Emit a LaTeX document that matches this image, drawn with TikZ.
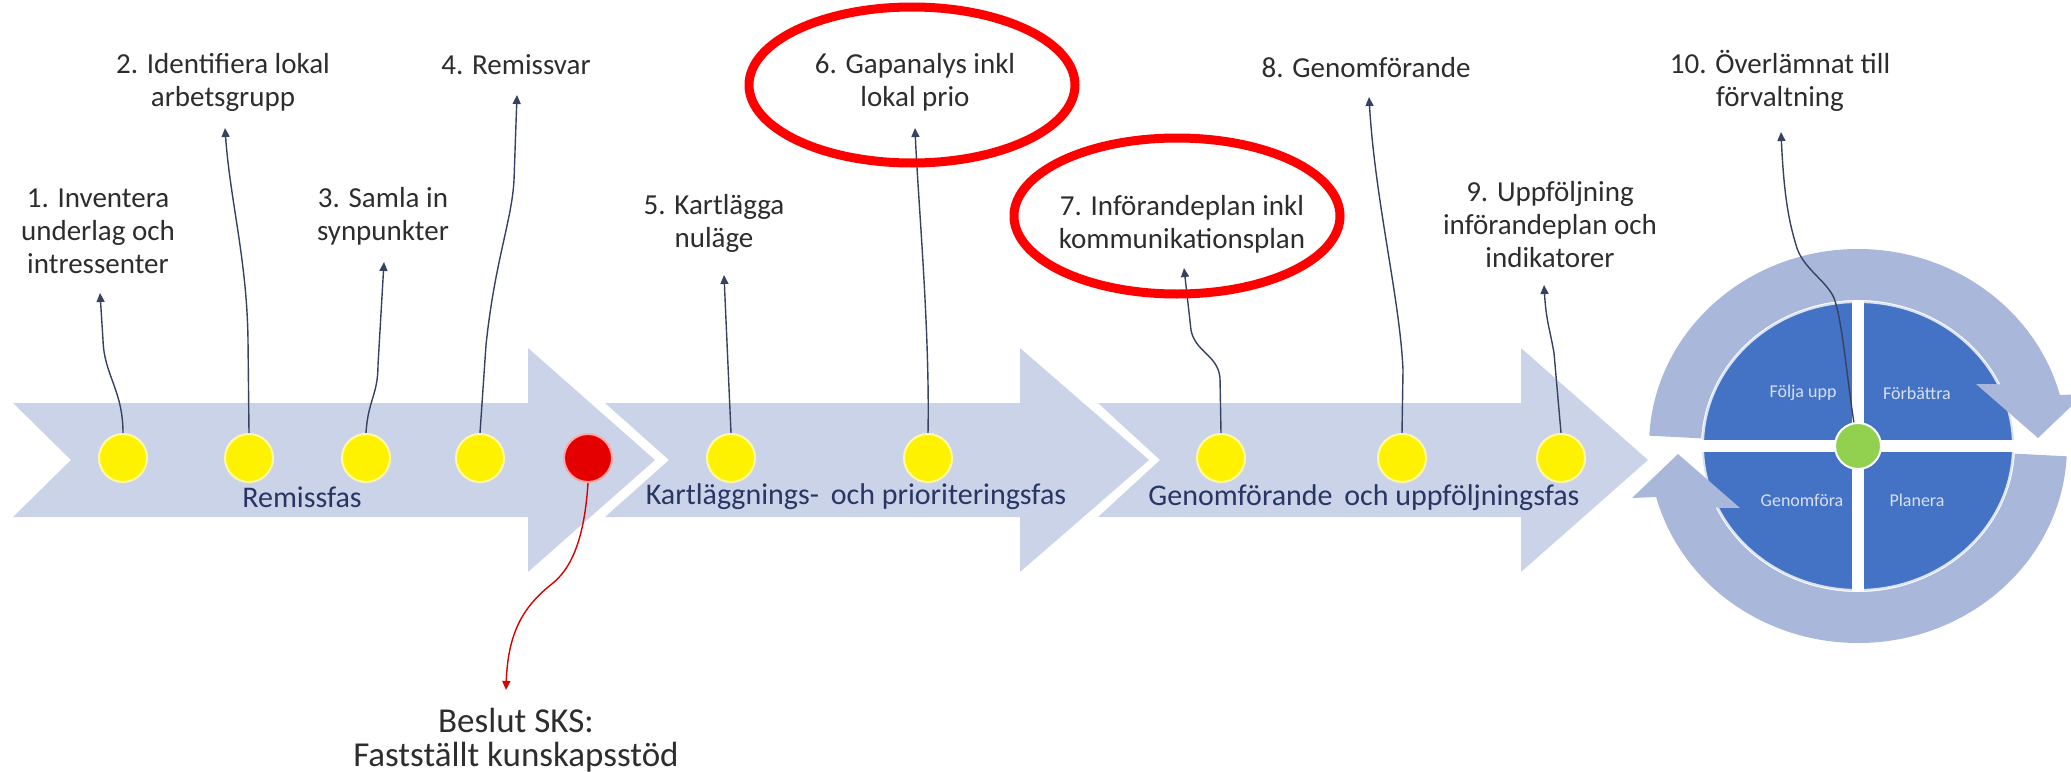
\documentclass[tikz,border=0pt]{standalone}
\usepackage{fontspec}
\setmainfont{Carlito}
\usetikzlibrary{arrows.meta}
\definecolor{chev}{RGB}{203,211,232}
\definecolor{ringc}{RGB}{169,183,218}
\definecolor{diskc}{RGB}{68,114,196}
\definecolor{dotg}{RGB}{146,208,80}
\definecolor{phase}{RGB}{40,54,100}
\definecolor{ink}{RGB}{45,45,45}
\definecolor{wire}{RGB}{55,66,96}
\definecolor{hlred}{RGB}{255,0,0}
\definecolor{quad}{RGB}{214,224,244}

\begin{document}
\begin{tikzpicture}[x=0.5pt,y=-0.5pt,
  lbl/.style={align=center,text=ink,font=\fontsize{14.5}{16.5}\selectfont,inner sep=0pt},
  big/.style={lbl,font=\fontsize{17.5}{17}\selectfont},
  ph/.style={text=phase,font=\fontsize{15}{18}\selectfont,inner sep=0pt},
  qd/.style={text=quad,font=\fontsize{9}{11}\selectfont,inner sep=0pt},
  ydot/.style={circle,fill=yellow,draw=yellow!35,line width=1pt,minimum size=24pt,inner sep=0pt},
  rdot/.style={ydot,fill=red!90!black,draw=red!35},
  gdot/.style={circle,fill=dotg,draw=white,line width=1pt,minimum size=23pt,inner sep=0pt},
  chevf/.style={fill=chev},
  ed/.style={-{Triangle[length=4.5pt,width=4pt]},line width=0.7pt,wire},
  edr/.style={ed,red!85!black},
  hl/.style={draw=hlred,line width=4.5pt}]
\useasboundingbox (0,0) rectangle (2071,771);
\clip (0,0) rectangle (2071,771);
\fill[chevf] (13,403) -- (528,403) -- (528,348) -- (655,460) -- (528,572) -- (528,517) -- (13,517) -- (71,460) -- cycle;
\fill[chevf] (605,403) -- (1020,403) -- (1020,348) -- (1149,460) -- (1020,572) -- (1020,517) -- (605,517) -- (669,460) -- cycle;
\fill[chevf] (1098,403) -- (1521,403) -- (1521,348) -- (1648,460) -- (1521,572) -- (1521,517) -- (1098,517) -- (1160,460) -- cycle;
\node[ph] (p1) at (302,497) {Remissfas};
\node[ph] (p2) at (856,497) {Kartläggnings-\, och prioriteringsfas};
\node[ph] (p3) at (1364,498) {Genomförande\, och uppföljningsfas};
\begin{scope}[shift={(1858,446)}]
\fill[diskc] (0,0) ellipse[x radius=155,y radius=144];
\draw[white!80!diskc,line width=1pt] (0,0) ellipse[x radius=155,y radius=144];
\draw[white,line width=6pt] (-156,0) -- (156,0) (0,-145) -- (0,145);
\foreach \r in {0,180}
  \fill[ringc,rotate=\r] (3:209 and 197) arc[start angle=3,end angle=165,x radius=209,y radius=197]
    -- (-226,52) -- (-180,8) -- (-118,62) -- (155:157 and 146)
    arc[start angle=155,end angle=3,x radius=157,y radius=146] -- cycle;
\end{scope}
\node[gdot] (dg) at (1858,446) {};
\node[qd] (q1) at (1803,393) {Följa upp};
\node[qd] (q2) at (1917,393) {Förbättra};
\node[qd] (q3) at (1802,500) {Genomföra};
\node[qd] (q4) at (1917,500) {Planera};
\node[ydot] (d1) at (123,458) {};
\node[ydot] (d2) at (249,458) {};
\node[ydot] (d3) at (366,458) {};
\node[ydot] (d4) at (480,458) {};
\node[rdot] (dr) at (588,458) {};
\node[ydot] (d5) at (731,458) {};
\node[ydot] (d6) at (928,458) {};
\node[ydot] (d7) at (1221,458) {};
\node[ydot] (d8) at (1402,458) {};
\node[ydot] (d9) at (1561,458) {};
\node[lbl] (l1) at (98,231) {1. Inventera\\underlag och\\intressenter};
\node[lbl] (l2) at (223,82) {2. Identifiera lokal\\arbetsgrupp};
\node[lbl] (l3) at (383,216) {3. Samla in\\synpunkter};
\node[lbl] (l4) at (516,65) {4. Remissvar};
\node[lbl] (l5) at (714,223) {5. Kartlägga\\nuläge};
\node[lbl] (l6) at (915,82) {6. Gapanalys inkl\\lokal prio};
\node[lbl] (l7) at (1182,224) {7. Införandeplan inkl\\kommunikationsplan};
\node[lbl] (l8) at (1366,68) {8. Genomförande};
\node[lbl] (l9) at (1550,225) {9. Uppföljning\\införandeplan och\\indikatorer};
\node[lbl] (l10) at (1780,81) {10. Överlämnat till\\förvaltning};
\node[big] (lb) at (516,740) {Beslut SKS:\\Fastställt kunskapsstöd};
\coordinate (t1) at (100,293);
\coordinate (t2) at (225,128);
\coordinate (t3) at (384,262);
\coordinate (t4) at (517,95);
\coordinate (t5) at (724,275);
\coordinate (t6) at (915,128);
\coordinate (t7) at (1184,268);
\coordinate (t8) at (1369,97);
\coordinate (t9) at (1544,285);
\coordinate (t10) at (1781,132);
\coordinate (tb) at (506,690);
\draw[ed] (d1.north) .. controls (123,390) and (104,375) .. (103,340) -- (t1);
\draw[ed] (d2.north) -- (248,340) .. controls (247,260) and (230,200) .. (t2);
\draw[ed] (d3.north) .. controls (368,400) and (378,395) .. (378,365) -- (t3);
\draw[ed] (d4.north) -- (486,345) .. controls (495,260) and (512,220) .. (514,180) -- (t4);
\draw[ed] (d5.north) -- (t5);
\draw[ed] (d6.north) .. controls (930,330) and (918,200) .. (t6);
\draw[ed] (d7.north) -- (1220,378) .. controls (1218,355) and (1195,352) .. (1191,330) -- (t7);
\draw[ed] (d8.north) -- (1403,370) .. controls (1400,300) and (1375,200) .. (t8);
\draw[ed] (d9.north) -- (1554,353) .. controls (1550,330) and (1546,320) .. (t9);
\draw[ed] (dg.100) .. controls (1846,370) and (1842,320) .. (1834,298)
  .. controls (1826,280) and (1802,268) .. (1796,245)
  .. controls (1790,225) and (1784,200) .. (t10);
\draw[edr] (dr.south) .. controls (585,530) and (575,565) .. (553,583)
  .. controls (525,605) and (508,630) .. (tb);
\draw[hl] (912,85) ellipse[x radius=163,y radius=78];
\draw[hl] (1177,216) ellipse[x radius=163,y radius=78];
\end{tikzpicture}
\end{document}
